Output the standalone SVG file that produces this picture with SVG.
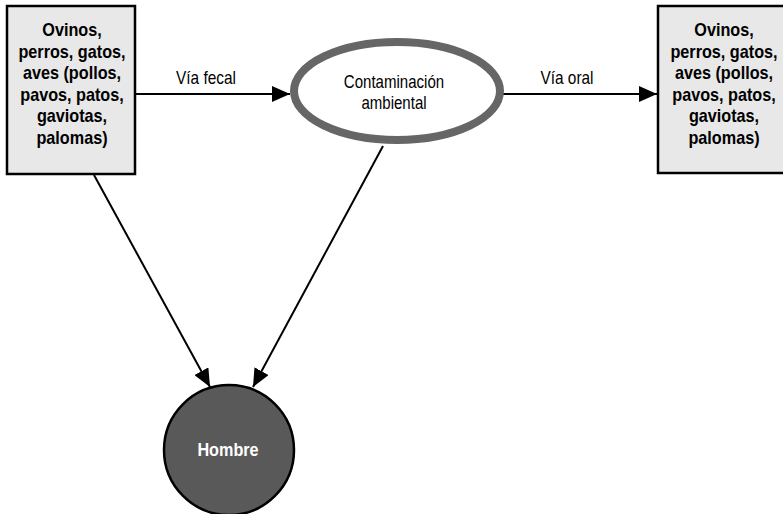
<svg xmlns="http://www.w3.org/2000/svg" width="783" height="514" viewBox="0 0 783 514">
<defs>
<marker id="ah" markerUnits="userSpaceOnUse" markerWidth="20" markerHeight="16" refX="18" refY="8" orient="auto">
<path d="M0,0 L18,8 L0,16 Z" fill="#000"/>
</marker>
<style>
.box{fill:#e8e8e8;stroke:#000;stroke-width:2.5}
.bt{font-family:"Liberation Sans",Arial,sans-serif;font-weight:bold;font-size:18px;text-anchor:middle;fill:#000}
.lt{font-family:"Liberation Sans",Arial,sans-serif;font-size:17.5px;text-anchor:middle;fill:#000}
.con{stroke:#000;stroke-width:2;fill:none;marker-end:url(#ah)}
</style>
</defs>
<rect width="783" height="514" fill="#fff"/>
<g id="connectors">
<line class="con" x1="136" y1="94" x2="290" y2="94"/>
<g transform="translate(206,0) scale(0.88,1)"><text class="lt" x="0" y="84">Vía fecal</text></g>
<line class="con" x1="503" y1="94" x2="657" y2="94"/>
<g transform="translate(567,0) scale(0.88,1)"><text class="lt" x="0" y="84">Vía oral</text></g>
<line class="con" x1="94" y1="175" x2="210" y2="387"/>
<line class="con" x1="383" y1="146" x2="253" y2="387"/>
</g>
<g id="animales-origen">
<rect class="box" x="7" y="6" width="128" height="168"/>
<g transform="translate(72,0) scale(0.9,1)">
<text class="bt" x="0" y="36.5">Ovinos,</text>
<text class="bt" x="0" y="58">perros, gatos,</text>
<text class="bt" x="0" y="79.5">aves (pollos,</text>
<text class="bt" x="0" y="101">pavos, patos,</text>
<text class="bt" x="0" y="122.5">gaviotas,</text>
<text class="bt" x="0" y="144">palomas)</text>
</g>
</g>
<g id="contaminacion">
<ellipse cx="397" cy="91" rx="103" ry="49" fill="#fff" stroke="#666" stroke-width="8"/>
<g transform="translate(394,0) scale(0.86,1)">
<text class="lt" x="0" y="88">Contaminación</text>
<text class="lt" x="0" y="109">ambiental</text>
</g>
</g>
<g id="animales-destino">
<rect class="box" x="658" y="6" width="132" height="167"/>
<g transform="translate(724,0) scale(0.9,1)">
<text class="bt" x="0" y="36.5">Ovinos,</text>
<text class="bt" x="0" y="58">perros, gatos,</text>
<text class="bt" x="0" y="79.5">aves (pollos,</text>
<text class="bt" x="0" y="101">pavos, patos,</text>
<text class="bt" x="0" y="122.5">gaviotas,</text>
<text class="bt" x="0" y="144">palomas)</text>
</g>
</g>
<g id="hombre">
<circle cx="229" cy="450" r="65" fill="#595959" stroke="#000" stroke-width="2.5"/>
<g transform="translate(228,0) scale(0.9,1)"><text class="bt" x="0" y="456" style="fill:#fff">Hombre</text></g>
</g>
</svg>
